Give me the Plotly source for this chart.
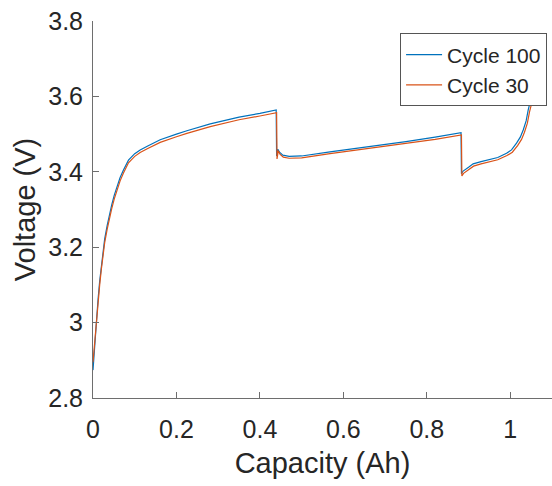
import plotly.graph_objects as go

# Cycle 100 (blue)
cap_100 = [0.000, 0.004, 0.008, 0.012, 0.016, 0.020, 0.024, 0.028, 0.034, 0.040, 0.045, 0.051,
           0.057, 0.065, 0.073, 0.085,
           0.100, 0.113, 0.130, 0.161, 0.200, 0.225, 0.281, 0.350, 0.400, 0.439,
           0.440, 0.443, 0.447, 0.455, 0.470, 0.500, 0.568, 0.650, 0.750, 0.820, 0.882,
           0.883, 0.887, 0.900, 0.911, 0.930, 0.951, 0.970, 0.991, 1.003, 1.015, 1.024,
           1.031, 1.038, 1.043, 1.051, 1.057]
v_100 = [2.874, 2.945, 3.005, 3.060, 3.110, 3.152, 3.190, 3.222, 3.258, 3.290, 3.313, 3.338,
         3.360, 3.385, 3.405, 3.431,
         3.448, 3.458, 3.468, 3.485, 3.500, 3.509, 3.527, 3.545, 3.555, 3.564,
         3.442, 3.460, 3.452, 3.444, 3.441, 3.442, 3.453, 3.465, 3.480, 3.492, 3.504,
         3.395, 3.402, 3.412, 3.421, 3.427, 3.432, 3.438, 3.449, 3.458, 3.476, 3.492,
         3.511, 3.535, 3.564, 3.600, 3.650]

# Cycle 30 (orange)
cap_30 = [0.000, 0.004, 0.008, 0.012, 0.016, 0.020, 0.024, 0.028, 0.034, 0.040, 0.045, 0.051,
          0.057, 0.065, 0.073, 0.085,
          0.100, 0.113, 0.130, 0.161, 0.200, 0.225, 0.281, 0.350, 0.400, 0.440,
          0.441, 0.444, 0.448, 0.456, 0.470, 0.500, 0.568, 0.650, 0.750, 0.820, 0.883,
          0.884, 0.888, 0.900, 0.912, 0.930, 0.952, 0.970, 0.992, 1.005, 1.018, 1.027,
          1.034, 1.041, 1.046, 1.054, 1.060]
v_30 = [2.895, 2.950, 3.002, 3.052, 3.100, 3.142, 3.180, 3.212, 3.248, 3.280, 3.303, 3.328,
        3.350, 3.376, 3.397, 3.424,
        3.441, 3.451, 3.461, 3.478, 3.493, 3.502, 3.520, 3.538, 3.548, 3.557,
        3.434, 3.456, 3.447, 3.439, 3.436, 3.437, 3.448, 3.460, 3.474, 3.486, 3.498,
        3.389, 3.396, 3.406, 3.415, 3.421, 3.426, 3.432, 3.443, 3.452, 3.470, 3.486,
        3.505, 3.529, 3.558, 3.594, 3.645]

x_ticks = [0, 0.2, 0.4, 0.6, 0.8, 1]
x_tick_text = ["0", "0.2", "0.4", "0.6", "0.8", "1"]
y_ticks = [2.8, 3.0, 3.2, 3.4, 3.6, 3.8]
y_tick_text = ["2.8", "3", "3.2", "3.4", "3.6", "3.8"]

FONT = "Liberation Sans, Arial, sans-serif"
AXIS_COLOR = "#6e6e6e"
TEXT_COLOR = "#262626"

fig = go.Figure()
fig.add_trace(go.Scatter(x=cap_100, y=v_100, mode="lines", name="Cycle 100",
                         line=dict(color="#0072BD", width=1.2)))
fig.add_trace(go.Scatter(x=cap_30, y=v_30, mode="lines", name="Cycle 30",
                         line=dict(color="#D95319", width=1.2)))

fig.update_layout(
    width=552, height=486,
    margin=dict(l=93, r=0, t=21, b=88),
    paper_bgcolor="white", plot_bgcolor="white",
    font=dict(family=FONT, color=TEXT_COLOR),
    showlegend=True,
    legend=dict(x=0.669, y=0.967, xanchor="left", yanchor="top",
                bgcolor="white", bordercolor="#555555", borderwidth=1,
                font=dict(size=21, family=FONT, color=TEXT_COLOR),
                tracegroupgap=0, itemwidth=36),
)
fig.update_xaxes(
    range=[0, 1.1], tickvals=x_ticks, ticktext=x_tick_text,
    showgrid=False, zeroline=False, showline=True, linecolor=AXIS_COLOR, linewidth=1,
    ticks="inside", ticklen=6, tickcolor=AXIS_COLOR, ticklabelstandoff=9,
    tickfont=dict(size=25, family=FONT, color=TEXT_COLOR),
    title=dict(text="Capacity (Ah)", font=dict(size=29, family=FONT, color=TEXT_COLOR), standoff=10),
)
fig.update_yaxes(
    range=[2.8, 3.8], tickvals=y_ticks, ticktext=y_tick_text,
    showgrid=False, zeroline=False, showline=True, linecolor=AXIS_COLOR, linewidth=1,
    ticks="inside", ticklen=6, tickcolor=AXIS_COLOR, ticklabelstandoff=4,
    tickfont=dict(size=25, family=FONT, color=TEXT_COLOR),
    title=dict(text="Voltage (V)", font=dict(size=29, family=FONT, color=TEXT_COLOR), standoff=4),
)

fig.write_html("out.html")
